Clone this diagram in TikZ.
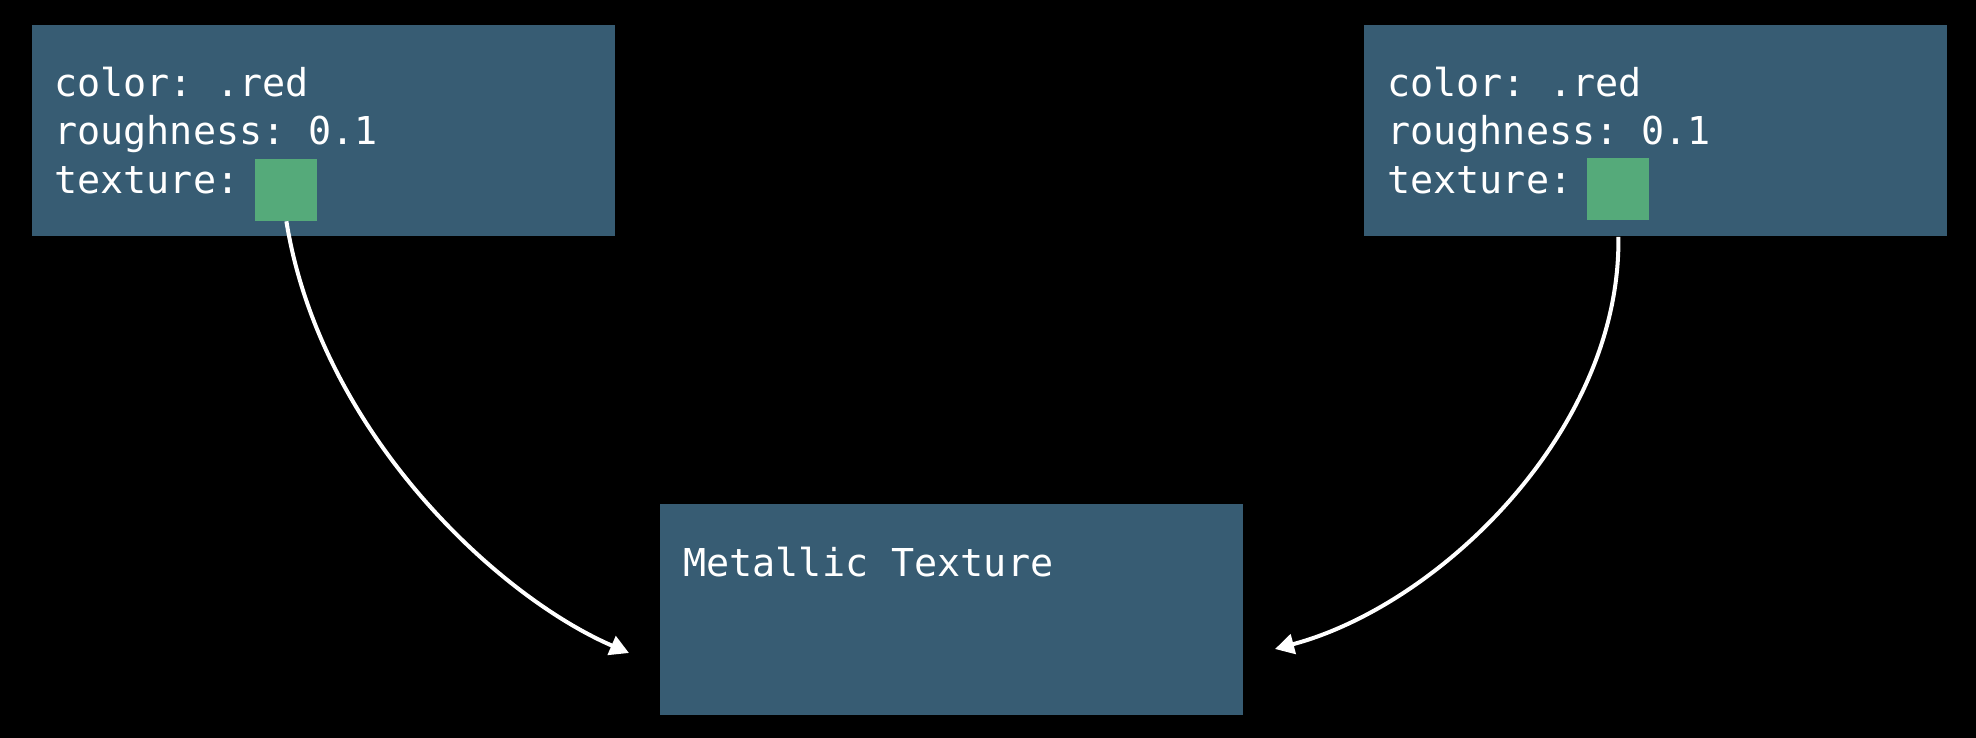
\documentclass[tikz,border=0pt]{standalone}
\usepackage{fontspec}
\setmonofont{DejaVu Sans Mono}
\usetikzlibrary{arrows.meta}
\definecolor{boxblue}{RGB}{55,92,115}
\definecolor{texgreen}{RGB}{85,170,122}
\begin{document}
\begin{tikzpicture}[
        x=0.5pt, y=-0.5pt,
        matbox/.style={fill=boxblue, draw=none, inner sep=0pt, anchor=north west,
            minimum width=291.5pt, minimum height=105.5pt},
        swatch/.style={fill=texgreen, draw=none, inner sep=0pt, anchor=north west,
            minimum size=31pt},
        code/.style={text=white, inner sep=0pt, anchor=base west,
            font=\ttfamily\fontsize{19.2}{24}\selectfont},
        link/.style={draw=white, line width=2pt, -{Triangle[length=9.5pt,width=10pt]}},
    ]
    \fill[black] (0,0) rectangle (1976,738);
    % materials
    \node[matbox](leftmat) at (31.5,25){};
    \node[matbox](rightmat) at (1363.5,25){};
    \node[matbox](metal) at (660,504){};
    % property lines
    \node[code](colorL) at (54,97){color: .red};
    \node[code](roughL) at (54,145){roughness: 0.1};
    \node[code](textureL) at (54,193){texture:};
    \node[code](colorR) at (1387,97){color: .red};
    \node[code](roughR) at (1387,145){roughness: 0.1};
    \node[code](textureR) at (1387,193){texture:};
    \node[code](metalname) at (683,576){Metallic Texture};
    \node[swatch](texL) at (255,158.5){};
    \node[swatch](texR) at (1587,158){};
    % references to the shared texture
    \coordinate (inL) at (629,653);
    \coordinate (inR) at (1275,649);
    \draw[link] (texL.south) .. controls (320,430) and (495,595) .. (inL);
    \draw[link] (texR |- rightmat.south) .. controls (1621,430) and (1440,605) .. (inR);
\end{tikzpicture}
\end{document}
